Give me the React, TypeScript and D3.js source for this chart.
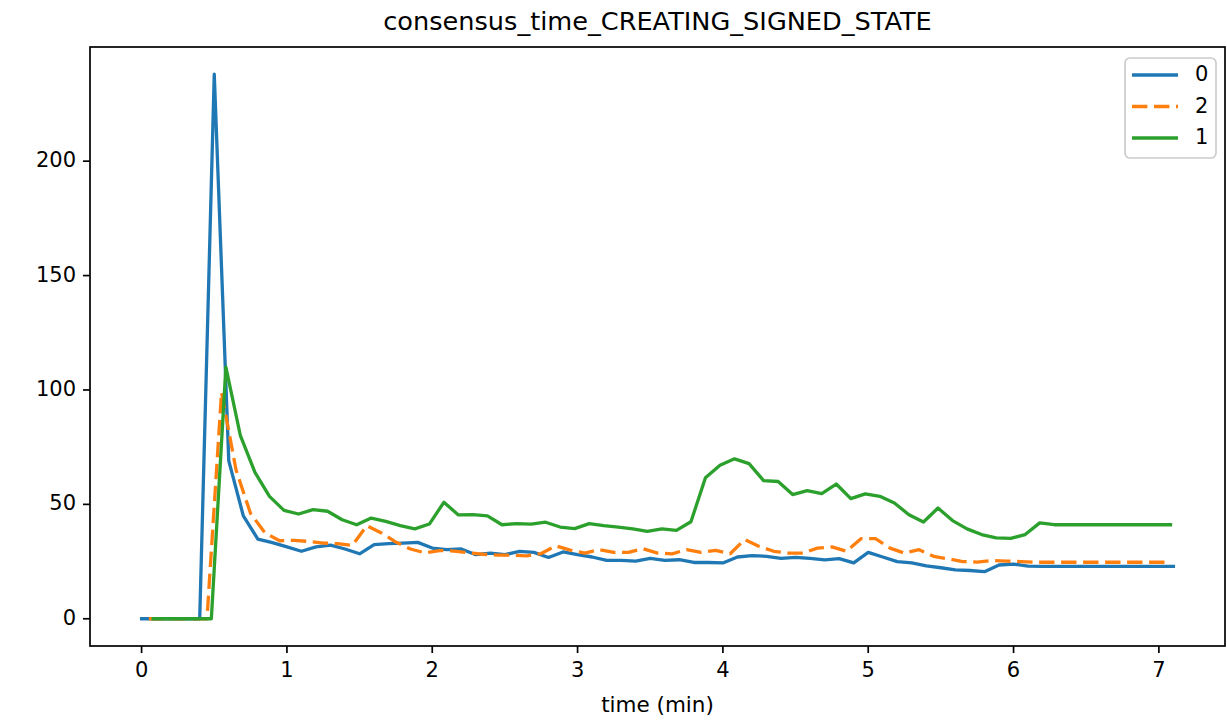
import React from "react";
import * as d3 from "d3";

const STEP = 0.1;
const seriesNames = ["0", "2", "1"];
const seriesColors = ["#1f77b4", "#ff7f0e", "#2ca02c"];
const seriesStart = [0, 0.05, 0.08];

const values0 = [
  0, 0, 0, 0, 0, 238, 69, 45, 34.8, 33.3, 31.4, 29.5, 31.4, 32.2, 30.5, 28.4,
  32.4, 32.8, 33.1, 33.4, 30.9, 30.2, 30.5, 28, 28.7, 28, 29.5, 29, 26.8, 29.2,
  28, 27, 25.5, 25.5, 25.2, 26.4, 25.5, 25.8, 24.6, 24.6, 24.4, 27, 27.6, 27.3,
  26.4, 26.8, 26.4, 25.7, 26.3, 24.4, 29, 27, 25, 24.4, 23.1, 22.3, 21.4, 21.1,
  20.6, 23.5, 23.9, 23, 22.9, 22.9, 22.9, 22.9, 22.9, 22.9, 22.9, 22.9, 22.9, 22.9,
];

const values2 = [
  0, 0, 0, 0, 0, 99, 65, 46, 37.5, 34.1, 34.3, 33.8, 33.1, 32.8, 32.1, 40.7,
  37.5, 33.5, 30.5, 28.8, 29.8, 29.6, 28.8, 28.2, 27.8, 27.8, 27.5, 28.5, 31.9,
  30, 28.7, 30.2, 29, 29, 30.6, 28.7, 28.4, 30.2, 29, 29.9, 28.4, 34.6, 31.6,
  29.5, 28.7, 28.7, 30.9, 31.4, 29.5, 35, 35, 30.9, 28.7, 30.2, 27.3, 26.2, 25,
  24.8, 25.5, 25.2, 25, 24.7, 24.7, 24.7, 24.7, 24.7, 24.7, 24.7, 24.7, 24.7, 24.7,
];

const values1 = [
  0, 0, 0, 0, 0, 110, 80, 64, 53.5, 47.4, 45.8, 47.7, 47, 43.3, 41.1, 44, 42.6,
  40.7, 39.3, 41.4, 50.9, 45.4, 45.5, 45, 41.1, 41.6, 41.4, 42.2, 40.1, 39.4,
  41.6, 40.7, 40.1, 39.3, 38.2, 39.3, 38.6, 42.4, 61.6, 67.1, 69.9, 67.8, 60.4,
  60, 54.3, 56, 54.7, 58.9, 52.5, 54.6, 53.5, 50.6, 45.5, 42.3, 48.4, 42.9, 39.3,
  36.8, 35.4, 35.1, 36.8, 41.9, 41.1, 41.1, 41.1, 41.1, 41.1, 41.1, 41.1, 41.1, 41.1,
];

const seriesValues = [values0, values2, values1];
const xTicks = [0, 1, 2, 3, 4, 5, 6, 7];
const yTicks = [0, 50, 100, 150, 200];
const title = "consensus_time_CREATING_SIGNED_STATE";
const xLabel = "time (min)";

const W = 1227;
const H = 725;
const L = 90;
const R = 1225;
const T = 47;
const B = 646;
const FONT = "DejaVu Sans, sans-serif";

export default function App() {
  const series = seriesValues.map((vals, s) =>
    vals.map((v, i) => ({ t: seriesStart[s] + i * STEP, v }))
  );
  const all = series.flat();
  const xMin = d3.min(all, (d) => d.t) as number;
  const xMax = d3.max(all, (d) => d.t) as number;
  const yMin = d3.min(all, (d) => d.v) as number;
  const yMax = d3.max(all, (d) => d.v) as number;
  const xm = (xMax - xMin) * 0.05;
  const ym = (yMax - yMin) * 0.05;
  const x = d3.scaleLinear().domain([xMin - xm, xMax + xm]).range([L, R]);
  const y = d3.scaleLinear().domain([yMin - ym, yMax + ym]).range([B, T]);
  const line = d3
    .line<{ t: number; v: number }>()
    .x((d) => x(d.t))
    .y((d) => y(d.v));

  const lw = 3.3;
  const dash = "15.4 6.6";
  const legX = 1125;
  const legY = 58;
  const legW = 91;
  const legH = 100;
  const rowY = [75, 106.5, 138];
  const fs = 21;

  return (
    <svg
      width={W}
      height={H}
      style={{ position: "absolute", left: 0, top: 0, background: "#fff" }}
      fontFamily={FONT}
    >
      <rect x={0} y={0} width={W} height={H} fill="#fff" />
      <defs>
        <clipPath id="plotclip">
          <rect x={L} y={T} width={R - L} height={B - T} />
        </clipPath>
      </defs>
      <g clipPath="url(#plotclip)">
        {series.map((d, s) => (
          <path
            key={s}
            d={line(d) || ""}
            fill="none"
            stroke={seriesColors[s]}
            strokeWidth={lw}
            strokeLinejoin="round"
            strokeLinecap={s === 1 ? "butt" : "square"}
            strokeDasharray={s === 1 ? dash : undefined}
          />
        ))}
      </g>
      <rect
        x={L}
        y={T}
        width={R - L}
        height={B - T}
        fill="none"
        stroke="#000"
        strokeWidth={1.7}
      />
      {xTicks.map((t) => (
        <g key={"x" + t}>
          <line x1={x(t)} x2={x(t)} y1={B} y2={B + 7} stroke="#000" strokeWidth={1.7} />
          <text
            x={x(t)}
            y={B + 25}
            fontSize={fs}
            textAnchor="middle"
            dominantBaseline="middle"
          >
            {t}
          </text>
        </g>
      ))}
      {yTicks.map((t) => (
        <g key={"y" + t}>
          <line x1={L - 7} x2={L} y1={y(t)} y2={y(t)} stroke="#000" strokeWidth={1.7} />
          <text
            x={L - 14}
            y={y(t)}
            fontSize={fs}
            textAnchor="end"
            dominantBaseline="middle"
          >
            {t}
          </text>
        </g>
      ))}
      <text x={(L + R) / 2} y={706} fontSize={21.5} textAnchor="middle" dominantBaseline="middle">
        {xLabel}
      </text>
      <text x={(L + R) / 2} y={23} fontSize={25.6} textAnchor="middle" dominantBaseline="middle">
        {title}
      </text>
      <rect
        x={legX}
        y={legY}
        width={legW}
        height={legH}
        rx={5}
        fill="#fff"
        fillOpacity={0.8}
        stroke="#cccccc"
        strokeWidth={1.7}
      />
      {seriesNames.map((n, s) => (
        <g key={"l" + s}>
          <line
            x1={1132}
            x2={1178}
            y1={rowY[s]}
            y2={rowY[s]}
            stroke={seriesColors[s]}
            strokeWidth={lw}
            strokeDasharray={s === 1 ? dash : undefined}
          />
          <text x={1195} y={rowY[s]} fontSize={fs} dominantBaseline="middle">
            {n}
          </text>
        </g>
      ))}
    </svg>
  );
}
